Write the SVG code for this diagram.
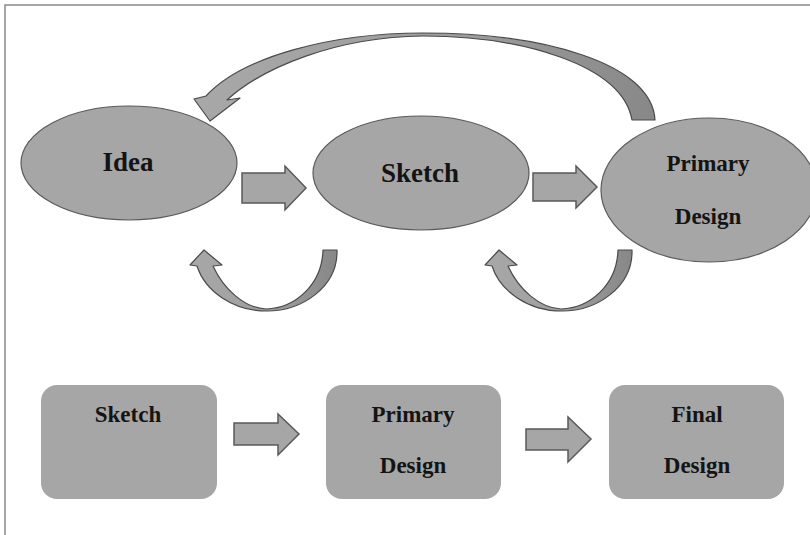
<svg xmlns="http://www.w3.org/2000/svg" width="810" height="535" viewBox="0 0 810 535">
  <style>
    .node { fill: #a6a6a6; stroke: #5a5a5a; stroke-width: 1.2; }
    .box { fill: #a6a6a6; }
    .label { font-family: "Liberation Serif", "Times New Roman", serif; font-weight: bold; fill: #141414; text-anchor: middle; }
    .big { font-size: 27px; }
    .mid { font-size: 23px; }
    .block { fill: #a6a6a6; stroke: #5a5a5a; stroke-width: 1.5; stroke-linejoin: miter; }
    .curve { stroke: #4a4a4a; stroke-width: 1.2; stroke-linejoin: round; }
  </style>
  <defs>
    <linearGradient id="gTop" x1="195" y1="0" x2="655" y2="0" gradientUnits="userSpaceOnUse">
      <stop offset="0" stop-color="#a8a8a8"/>
      <stop offset="0.6" stop-color="#9c9c9c"/>
      <stop offset="1" stop-color="#888888"/>
    </linearGradient>
    <linearGradient id="gBot" x1="190" y1="0" x2="337" y2="0" gradientUnits="userSpaceOnUse">
      <stop offset="0" stop-color="#a8a8a8"/>
      <stop offset="0.55" stop-color="#9e9e9e"/>
      <stop offset="1" stop-color="#878787"/>
    </linearGradient>
  </defs>
  <rect x="0" y="0" width="810" height="535" fill="#ffffff"/>
  <path d="M 810,5 H 5 V 535" fill="none" stroke="#8a8a8a" stroke-width="1.5"/>

  <g id="connectors">
    <!-- top row block arrows -->
    <path class="block" d="M 242,173 H 285 V 166 L 306,188 L 285,210 V 203 H 242 Z"/>
    <path class="block" d="M 533,173 H 576 V 166 L 597,187 L 576,208 V 201 H 533 Z"/>
    <!-- bottom row block arrows -->
    <path class="block" d="M 234,423 H 278 V 414 L 299,434 L 278,455 V 445 H 234 Z"/>
    <path class="block" d="M 526,429 H 568 V 417 L 591,439 L 568,462 V 450 H 526 Z"/>
    <!-- big curved arrow Primary Design -> Idea -->
    <path class="curve" fill="url(#gTop)" d="M 655,120 C 652,62 540,33 423,33 C 330,33 242,57 206,96 L 194,99 L 210,121 L 240,98 L 227,100 C 262,68 335,37 423,36 C 520,36 622,64 632,120 Z"/>
    <!-- curved arrow Sketch -> Idea -->
    <path class="curve" fill="url(#gBot)" d="M 337,250 C 338,287 302,311 267,311 C 233,311 205,291 197,266 L 190,265 L 204,250 L 222,265 L 213,266 C 224,290 245,308 266,309 C 296,308 322,284 323,250 Z"/>
    <!-- curved arrow Primary Design -> Sketch -->
    <path class="curve" fill="url(#gBot)" transform="translate(295,0)" d="M 337,250 C 338,287 302,311 267,311 C 233,311 205,291 197,266 L 190,265 L 204,250 L 222,265 L 213,266 C 224,290 245,308 266,309 C 296,308 322,284 323,250 Z"/>
  </g>

  <g id="node-idea">
    <ellipse class="node" cx="129" cy="163" rx="108" ry="57"/>
    <text class="label big" x="128" y="171">Idea</text>
  </g>
  <g id="node-sketch">
    <ellipse class="node" cx="421" cy="173" rx="108" ry="57"/>
    <text class="label big" x="420" y="182">Sketch</text>
  </g>
  <g id="node-primary">
    <ellipse class="node" cx="709" cy="190" rx="108" ry="72"/>
    <text class="label mid" x="708" y="171">Primary</text>
    <text class="label mid" x="708" y="224">Design</text>
  </g>

  <g id="box-sketch">
    <rect class="box" x="41" y="385" width="176" height="114" rx="16"/>
    <text class="label mid" x="128" y="422">Sketch</text>
  </g>
  <g id="box-primary">
    <rect class="box" x="326" y="385" width="175" height="114" rx="16"/>
    <text class="label mid" x="413" y="422">Primary</text>
    <text class="label mid" x="413" y="473">Design</text>
  </g>
  <g id="box-final">
    <rect class="box" x="609" y="385" width="175" height="114" rx="16"/>
    <text class="label mid" x="697" y="422">Final</text>
    <text class="label mid" x="697" y="473">Design</text>
  </g>
</svg>
